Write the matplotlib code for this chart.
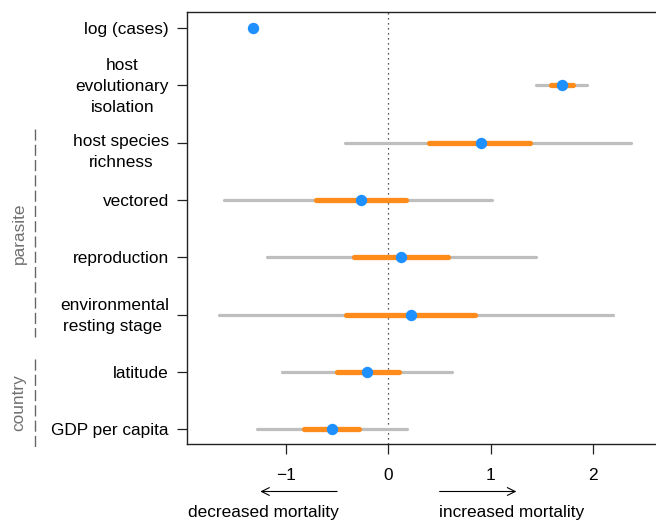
import matplotlib
matplotlib.use("Agg")
import matplotlib.pyplot as plt
import matplotlib.transforms as mtrans

plt.rcParams['font.family'] = ['Liberation Sans', 'DejaVu Sans']

labels = ["log (cases)", "host\nevolutionary\nisolation", "host species\nrichness",
          "vectored", "reproduction", "environmental\nresting stage ", "latitude",
          "GDP per capita"]
est = [-1.324, 1.693, 0.902, -0.270, 0.121, 0.225, -0.205, -0.553]
lo95 = [-1.35, 1.440, -0.423, -1.605, -1.188, -1.656, -1.038, -1.285]
hi95 = [-1.30, 1.943, 2.370, 1.010, 1.440, 2.197, 0.625, 0.186]
lo50 = [-1.34, 1.589, 0.400, -0.706, -0.332, -0.410, -0.500, -0.823]
hi50 = [-1.31, 1.800, 1.387, 0.173, 0.583, 0.844, 0.100, -0.286]
xticks = [-1, 0, 1, 2]
xticklabels = ["\u22121", "0", "1", "2"]
groups = ["parasite", "country"]

FS = 12.4
W, H = 656, 521
fig = plt.figure(figsize=(W / 100, H / 100), dpi=100)
ax_left, ax_right = 187, 670
ax_top, ax_bot = 12, 444
ax = fig.add_axes([ax_left / W, 1 - ax_bot / H, (ax_right - ax_left) / W, (ax_bot - ax_top) / H])

n = len(labels)
ys = [n - i for i in range(n)]

ax.axvline(0, color='#222222', lw=0.9, ls=(0, (1, 3)), zorder=1)
for y, a, b, c, d, e in zip(ys, lo95, hi95, lo50, hi50, est):
    ax.plot([a, b], [y, y], color='#BEBEBE', lw=2.3, solid_capstyle='round', zorder=2)
    ax.plot([c, d], [y, y], color='#FF8C1A', lw=3.8, solid_capstyle='round', zorder=3)
    ax.plot([e], [y], 'o', color='#1E90FF', ms=8.2, mec='none', zorder=4)

ax.set_xlim(-1.966, 2.75)
ax.set_ylim(0.74, 8.28)
ax.set_yticks(ys)
ax.set_yticklabels(labels, multialignment='center', fontsize=FS, linespacing=1.5)
ax.set_xticks(xticks)
ax.set_xticklabels(xticklabels, fontsize=FS)
ax.tick_params(axis='both', length=7, width=0.9, color='#222222')
ax.tick_params(axis='y', pad=6)
ax.tick_params(axis='x', pad=10)
for s in ['left', 'bottom', 'top']:
    ax.spines[s].set_linewidth(1.0)
    ax.spines[s].set_color('#222222')
ax.spines['right'].set_visible(False)

# vertical nudges (pixels) of multi-line labels to match the reference placement
nudges = {1: 3.0, 2: -4.5, 5: 3.0}
ticklabs = ax.get_yticklabels()
for i, dy in nudges.items():
    lab = ticklabs[i]
    lab.set_transform(lab.get_transform() + mtrans.ScaledTranslation(0, dy / 100, fig.dpi_scale_trans))

# arrows and direction labels
blend = mtrans.blended_transform_factory(ax.transData, fig.transFigure)
arrow_y = 1 - 491.5 / H
text_y = 1 - 513 / H
for x0, x1 in [(-0.5, -1.25), (0.5, 1.25)]:
    ax.annotate('', xy=(x1, arrow_y), xytext=(x0, arrow_y), xycoords=blend, textcoords=blend,
                annotation_clip=False,
                arrowprops=dict(arrowstyle='->', lw=0.8, color='black', mutation_scale=14,
                                shrinkA=0, shrinkB=0))
ax.text(-0.48, text_y, "decreased mortality", transform=blend, ha='right', va='center',
        fontsize=FS, clip_on=False)
ax.text(0.49, text_y, "increased mortality", transform=blend, ha='left', va='center',
        fontsize=FS, clip_on=False)

# group brackets
def ypix(p):
    return 1 - p / H
spans = [(129, 337), (359, 447)]
for name, (top, bot) in zip(groups, spans):
    fig.add_artist(plt.Line2D([35 / W, 35 / W], [ypix(top), ypix(bot)], transform=fig.transFigure,
                              color='#666666', lw=1.0, ls=(0, (8, 3))))
    fig.text(19 / W, ypix((top + bot) / 2), name, rotation=90, ha='center', va='center',
             color='#707070', fontsize=FS)

fig.savefig("out.png", dpi=100)
